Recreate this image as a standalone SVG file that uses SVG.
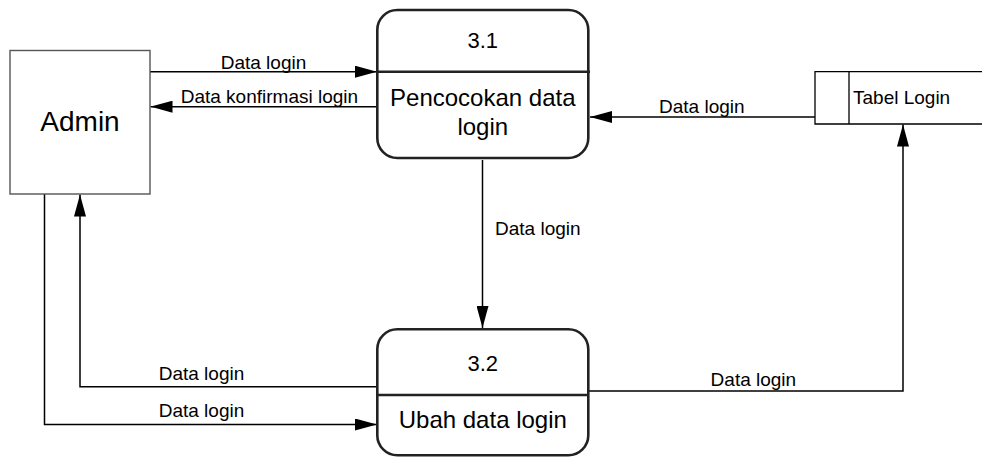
<svg xmlns="http://www.w3.org/2000/svg" width="982" height="457" viewBox="0 0 982 457">
<defs>
<marker id="arr" viewBox="0 0 22 12" refX="22" refY="6" markerWidth="22" markerHeight="12" markerUnits="userSpaceOnUse" orient="auto">
<path d="M0,0 L22,6 L0,12 Z" fill="#000"/>
</marker>
<style>
text{font-family:"Liberation Sans",Arial,sans-serif;fill:#000}
.lbl{font-size:19px}
.num{font-size:22px;text-anchor:middle}
.name{font-size:24px;text-anchor:middle}
.proc{fill:#fff;stroke:#222;stroke-width:2.6}
.div{stroke:#222;stroke-width:2.6}
.flow{fill:none;stroke:#000;stroke-width:1.5;marker-end:url(#arr)}
.plain{fill:none;stroke:#000;stroke-width:1.5}
</style>
</defs>
<rect width="982" height="457" fill="#fff"/>
<g id="connectors">
<path class="flow" d="M150,71.7 H377"/>
<path class="flow" d="M377,106.7 H150.5"/>
<path class="flow" d="M815,117 H590"/>
<path class="flow" d="M482.5,160 V328"/>
<path class="flow" d="M377,386.7 H80 V194.5"/>
<path class="flow" d="M44.5,194 V424.5 H377"/>
<path class="flow" d="M589,391 H903 V124.5"/>
<text class="lbl" x="220.7" y="69">Data login</text>
<text class="lbl" x="180.7" y="103.3">Data konfirmasi login</text>
<text class="lbl" x="659" y="113.3">Data login</text>
<text class="lbl" x="495" y="235">Data login</text>
<text class="lbl" x="158.7" y="380">Data login</text>
<text class="lbl" x="158.7" y="417">Data login</text>
<text class="lbl" x="710.6" y="386">Data login</text>
</g>
<g id="admin">
<rect x="10" y="50.5" width="140" height="143.5" fill="#fff" stroke="#555" stroke-width="1.4"/>
<text x="80" y="130.7" style="font-size:28px;text-anchor:middle">Admin</text>
</g>
<g id="p31">
<rect class="proc" x="377.3" y="10" width="211" height="148" rx="20" ry="20"/>
<line class="div" x1="377.3" y1="71.7" x2="590" y2="71.7"/>
<text class="num" x="482.8" y="48">3.1</text>
<text class="name" x="482.8" y="106">Pencocokan data</text>
<text class="name" x="482.8" y="135">login</text>
</g>
<g id="p32">
<rect class="proc" x="377.3" y="329.3" width="211" height="126" rx="20" ry="20"/>
<line class="div" x1="377.3" y1="395" x2="588.3" y2="395"/>
<text class="num" x="482.8" y="371">3.2</text>
<text class="name" x="482.8" y="428.3">Ubah data login</text>
</g>
<g id="tabel-login">
<path d="M982,71.7 H815 V124 H982 M849,71.7 V124" fill="#fff" stroke="#000" stroke-width="1.3"/>
<text class="lbl" x="853" y="104">Tabel Login</text>
</g>
</svg>
